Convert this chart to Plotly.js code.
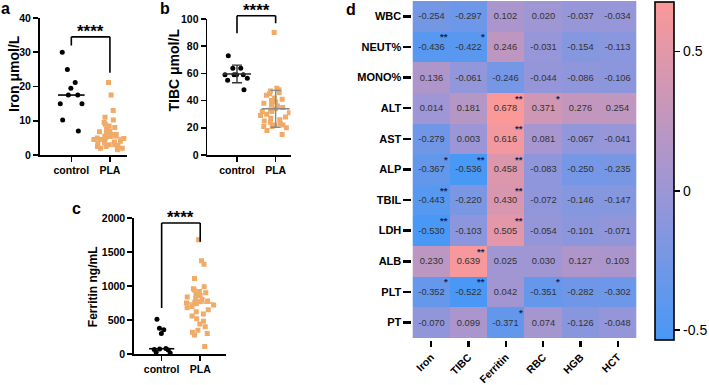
<!DOCTYPE html>
<html><head><meta charset="utf-8">
<script src="https://cdn.plot.ly/plotly-3.0.1.min.js"></script>
<style>html,body{margin:0;padding:0;background:#fff}#chart{width:709px;height:385px}</style>
</head><body><div id="chart"></div>
<script>
// ---------- data ----------
const groups = ['control', 'PLA'];
const ironControl = [30, 25, 21.2, 19.5, 17.5, 17.5, 15, 15, 10.2, 7];
const ironPLA = [21.2, 17.5, 13, 11, 10.2, 9.5, 9, 8.5, 8, 7.5, 7, 6.8, 6.5, 6, 6, 5.5, 5.5, 5, 5, 4.8,
                 4.5, 4.5, 4, 4, 3.8, 3.5, 3.5, 3, 3, 2.8, 2.5, 2.5, 2, 2, 1.5];
const tibcControl = [73, 63.7, 63.7, 59, 59, 59, 59, 56.4, 55, 48];
const tibcPLA = [90, 49, 48, 47, 46, 45, 44, 42, 41, 40, 39, 38, 37, 36, 35, 34, 33, 32, 32, 31,
                 30, 29, 28, 27, 26, 25, 24, 23, 22, 22, 21, 21, 20, 18, 15];
const ferritinControl = [510, 380, 355, 300, 80, 75, 65, 60, 25, 15];
const ferritinPLA = [1680, 1370, 1320, 1110, 990, 960, 940, 920, 900, 880, 860, 840, 820, 800, 780, 770, 760,
                     750, 740, 720, 700, 680, 650, 620, 590, 560, 520, 480, 440, 400, 350, 320, 300, 280, 110];

const ironTicks = [0, 10, 20, 30, 40];
const tibcTicks = [0, 20, 40, 60, 80, 100];
const ferritinTicks = [0, 500, 1000, 1500, 2000];
const axisTitles = ['Iron μmol/L', 'TIBC μmol/L', 'Ferritin ng/mL'];
const sigLabel = '****';
// bracket levels: [left leg bottom, top, right leg bottom]
const ironBracket = [32, 34.5, 24];
const tibcBracket = [89.6, 102.4, 96.8];
const ferritinBracket = [676, 1926, 1650];

const heatRows = ['WBC', 'NEUT%', 'MONO%', 'ALT', 'AST', 'ALP', 'TBIL', 'LDH', 'ALB', 'PLT', 'PT'];
const heatCols = ['Iron', 'TIBC', 'Ferritin', 'RBC', 'HGB', 'HCT'];
const corr = [
  [-0.254, -0.297, 0.102, 0.020, -0.037, -0.034],
  [-0.436, -0.422, 0.246, -0.031, -0.154, -0.113],
  [0.136, -0.061, -0.246, -0.044, -0.086, -0.106],
  [0.014, 0.181, 0.678, 0.371, 0.276, 0.254],
  [-0.279, 0.003, 0.616, 0.081, -0.067, -0.041],
  [-0.367, -0.536, 0.458, -0.083, -0.250, -0.235],
  [-0.443, -0.220, 0.430, -0.072, -0.146, -0.147],
  [-0.530, -0.103, 0.505, -0.054, -0.101, -0.071],
  [0.230, 0.639, 0.025, 0.030, 0.127, 0.103],
  [-0.352, -0.522, 0.042, -0.351, -0.282, -0.302],
  [-0.070, 0.099, -0.371, 0.074, -0.126, -0.048]
];
const stars = [
  ['', '', '', '', '', ''],
  ['**', '*', '', '', '', ''],
  ['', '', '', '', '', ''],
  ['', '', '**', '*', '', ''],
  ['', '', '**', '', '', ''],
  ['*', '**', '**', '', '', ''],
  ['**', '', '**', '', '', ''],
  ['**', '', '**', '', '', ''],
  ['', '**', '', '', '', ''],
  ['*', '**', '', '*', '', ''],
  ['', '', '*', '', '', '']
];
const cbTicks = [-0.5, 0, 0.5];
const cbTickText = ['-0.5', '0', '0.5'];

// ---------- styling ----------
const FONT = 'Liberation Sans, Arial, Helvetica, sans-serif';
const ORANGE = '#EFAB67';
const BLACK = '#000000';

function median(a) { const s = [...a].sort((p, q) => p - q); const n = s.length; return n % 2 ? s[(n - 1) / 2] : (s[n / 2 - 1] + s[n / 2]) / 2; }
function mean(a) { return a.reduce((s, v) => s + v, 0) / a.length; }
function sd(a) { const m = mean(a); return Math.sqrt(a.reduce((s, v) => s + (v - m) * (v - m), 0) / (a.length - 1)); }

function pts(xa, ya, name, ys, color, symbol, spread) {
  return {
    type: 'box', x0: name, y: ys, xaxis: xa, yaxis: ya, boxpoints: 'all', jitter: 0.95, pointpos: 0, width: spread,
    fillcolor: 'rgba(0,0,0,0)', line: { color: 'rgba(0,0,0,0)', width: 0 }, whiskerwidth: 0,
    marker: { color: color, symbol: symbol, size: 5, line: { width: 0 } }, hoverinfo: 'y', showlegend: false
  };
}
function centerLine(xa, ya, name, val, color, size, err) {
  const t = {
    type: 'scatter', mode: 'markers', x: [name], y: [val], xaxis: xa, yaxis: ya, showlegend: false,
    marker: { symbol: 'line-ew', size: size, color: color, line: { width: 1.6, color: color } }, cliponaxis: false
  };
  if (err !== undefined) t.error_y = { type: 'data', array: [err], visible: true, color: color, thickness: 1.4, width: 5 };
  return t;
}

const traces = [
  pts('x', 'y', 'control', ironControl, BLACK, 'circle', 0.75),
  pts('x', 'y', 'PLA', ironPLA, ORANGE, 'square', 0.9),
  centerLine('x', 'y', 'control', median(ironControl), BLACK, 19),
  centerLine('x', 'y', 'PLA', median(ironPLA), ORANGE, 19),

  pts('x2', 'y2', 'control', tibcControl, BLACK, 'circle', 0.8),
  pts('x2', 'y2', 'PLA', tibcPLA, ORANGE, 'square', 0.9),
  centerLine('x2', 'y2', 'control', mean(tibcControl), '#333333', 20, sd(tibcControl)),
  centerLine('x2', 'y2', 'PLA', mean(tibcPLA), '#8a8a8a', 20, sd(tibcPLA)),

  pts('x3', 'y3', 'control', ferritinControl, BLACK, 'circle', 0.9),
  pts('x3', 'y3', 'PLA', ferritinPLA, ORANGE, 'square', 0.9),
  centerLine('x3', 'y3', 'control', median(ferritinControl), BLACK, 18),
  centerLine('x3', 'y3', 'PLA', median(ferritinPLA), ORANGE, 18)
];

// heatmap
const flat = corr.flat();
const zmin = Math.min(...flat), zmax = Math.max(...flat);
const z0 = (0 - zmin) / (zmax - zmin);
traces.push({
  type: 'heatmap', x: heatCols, y: heatRows, z: corr, xaxis: 'x4', yaxis: 'y4',
  zmin: zmin, zmax: zmax,
  colorscale: [[0, 'rgb(72,152,246)'], [z0, 'rgb(156,150,214)'], [1, 'rgb(251,152,152)']],
  text: corr.map(r => r.map(v => v.toFixed(3))), texttemplate: '%{text}',
  textfont: { family: FONT, size: 9.3, color: '#333333' },
  colorbar: {
    x: 661 / 709, xanchor: 'left', xpad: 0, ypad: 0, y: 1 - 2 / 385, yanchor: 'top',
    thickness: 19, thicknessmode: 'pixels', len: 338, lenmode: 'pixels',
    outlinewidth: 1.6, outlinecolor: BLACK,
    tickvals: cbTicks, ticktext: cbTickText, ticks: 'outside', ticklen: 6, tickwidth: 1.5, tickcolor: BLACK,
    tickfont: { family: FONT, size: 14, color: BLACK }
  },
  hoverinfo: 'x+y+z'
});

// ---------- axes ----------
function xCat(domain, range, anchor) {
  return {
    domain: domain, range: range, anchor: anchor, type: 'category', categoryarray: groups,
    showline: true, linewidth: 1.6, linecolor: BLACK, ticks: 'outside', ticklen: 5, tickwidth: 1.6, tickcolor: BLACK,
    tickfont: { family: FONT, size: 10.5, color: BLACK, weight: 'bold' }, showgrid: false, zeroline: false, fixedrange: true
  };
}
function yLin(domain, range, ticks, anchor) {
  return {
    domain: domain, range: range, anchor: anchor, tickvals: ticks,
    showline: true, linewidth: 1.6, linecolor: BLACK, ticks: 'outside', ticklen: 5, tickwidth: 1.6, tickcolor: BLACK,
    tickfont: { family: FONT, size: 10.5, color: BLACK, weight: 'bold' }, showgrid: false, zeroline: false
  };
}

const dA = { x: [40 / 709, 128 / 709], y: [1 - 155 / 385, 1 - 18 / 385] };
const dB = { x: [209 / 709, 293 / 709], y: [1 - 155 / 385, 1 - 19 / 385] };
const dC = { x: [135 / 709, 228 / 709], y: [1 - 354 / 385, 1 - 218 / 385] };
const rA = [0, 40], rB = [0, 100], rC = [0, 2000];

function frac(v, r) { return (v - r[0]) / (r[1] - r[0]); }
function bracket(xr, yr, rng, b) {
  const base = { type: 'line', xref: xr, yref: yr + ' domain', line: { color: BLACK, width: 1.6 } };
  return [
    Object.assign({}, base, { x0: groups[0], x1: groups[0], y0: frac(b[0], rng), y1: frac(b[1], rng) }),
    Object.assign({}, base, { x0: groups[0], x1: groups[1], y0: frac(b[1], rng), y1: frac(b[1], rng) }),
    Object.assign({}, base, { x0: groups[1], x1: groups[1], y0: frac(b[2], rng), y1: frac(b[1], rng) })
  ];
}
function starAnn(xr, yr, rng, b) {
  return {
    xref: xr, yref: yr + ' domain', x: 0.5, y: frac(b[1], rng), yanchor: 'bottom', yshift: -6, showarrow: false,
    text: sigLabel, font: { family: FONT, size: 17, color: BLACK, weight: 'bold' }
  };
}

const annotations = [
  { text: 'a', x: 6 / 709, y: 1 - 8 / 385 },
  { text: 'b', x: 166 / 709, y: 1 - 8 / 385 },
  { text: 'c', x: 77 / 709, y: 1 - 209 / 385 },
  { text: 'd', x: 354 / 709, y: 1 - 9 / 385 }
].map(a => Object.assign({ xref: 'paper', yref: 'paper', showarrow: false, xanchor: 'center', yanchor: 'middle',
  font: { family: FONT, size: 16, color: BLACK, weight: 'bold' } }, a));

// y-axis titles
[
  { text: axisTitles[0], x: 14 / 709, y: 1 - 73 / 385, size: 14 },
  { text: axisTitles[1], x: 175 / 709, y: 1 - 70 / 385, size: 14 },
  { text: axisTitles[2], x: 94 / 709, y: 1 - 287 / 385, size: 12 }
].forEach(t => annotations.push({
  xref: 'paper', yref: 'paper', x: t.x, y: t.y, text: t.text, textangle: -90, showarrow: false,
  xanchor: 'center', yanchor: 'middle', font: { family: FONT, size: t.size, color: BLACK, weight: 'bold' }
}));

annotations.push(starAnn('x', 'y', rA, ironBracket), starAnn('x2', 'y2', rB, tibcBracket), starAnn('x3', 'y3', rC, ferritinBracket));

stars.forEach((row, r) => row.forEach((s, c) => {
  if (s) annotations.push({
    xref: 'x4', yref: 'y4', x: heatCols[c], y: heatRows[r], text: s, showarrow: false,
    xanchor: 'right', yanchor: 'middle', xshift: 19, yshift: 10,
    font: { family: FONT, size: 9.5, color: '#1c2452', weight: 'bold' }
  });
}));

const layout = {
  width: 709, height: 385, margin: { l: 0, r: 0, t: 0, b: 0 },
  paper_bgcolor: '#ffffff', plot_bgcolor: 'rgba(0,0,0,0)', showlegend: false,
  font: { family: FONT, color: BLACK },
  xaxis: xCat(dA.x, [-0.82, 1.44], 'y'),
  yaxis: yLin(dA.y, rA, ironTicks, 'x'),
  xaxis2: xCat(dB.x, [-0.77, 1.385], 'y2'),
  yaxis2: yLin(dB.y, rB, tibcTicks, 'x2'),
  xaxis3: xCat(dC.x, [-0.72, 1.67], 'y3'),
  yaxis3: yLin(dC.y, rC, ferritinTicks, 'x3'),
  xaxis4: {
    domain: [416 / 709, 642 / 709], anchor: 'y4', type: 'category', tickangle: -45, side: 'bottom',
    ticks: 'outside', ticklen: 6, tickwidth: 2.5, tickcolor: BLACK, showline: false, showgrid: false, zeroline: false,
    tickfont: { family: FONT, size: 10.5, color: BLACK, weight: 'bold' }
  },
  yaxis4: {
    domain: [1 - 340 / 385, 1 - 1 / 385], anchor: 'x4', type: 'category', autorange: 'reversed',
    ticks: 'outside', ticklen: 8, tickwidth: 2.5, tickcolor: BLACK, showline: false, showgrid: false, zeroline: false,
    tickfont: { family: FONT, size: 11, color: BLACK, weight: 'bold' }
  },
  shapes: [].concat(bracket('x', 'y', rA, ironBracket), bracket('x2', 'y2', rB, tibcBracket), bracket('x3', 'y3', rC, ferritinBracket)),
  annotations: annotations
};

Plotly.newPlot('chart', traces, layout, { displayModeBar: false, staticPlot: true });
</script>
</body></html>
